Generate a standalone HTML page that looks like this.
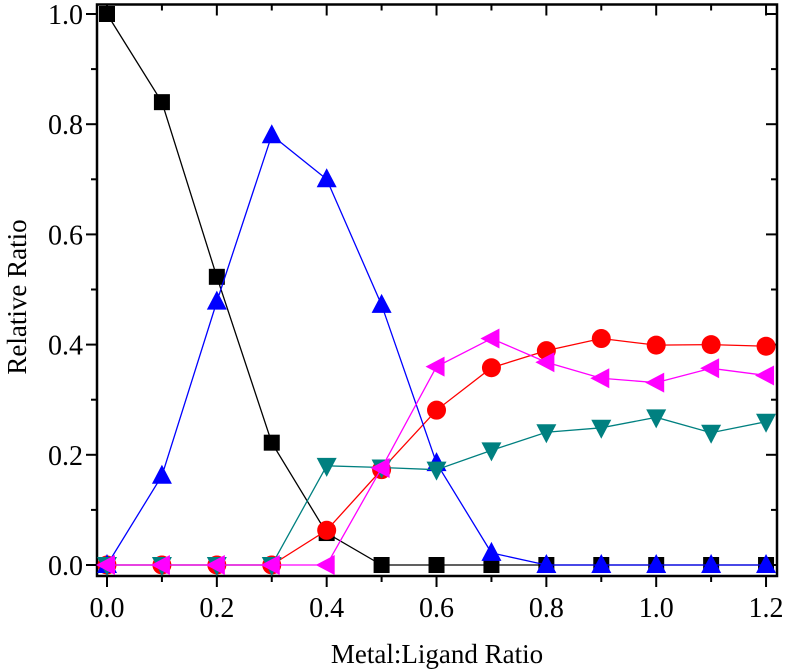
<!DOCTYPE html>
<html><head><meta charset="utf-8"><style>body{margin:0;background:#fff}svg{display:block}</style></head>
<body>
<svg id="chart" width="786" height="671" xmlns="http://www.w3.org/2000/svg" font-family="Liberation Serif, serif"></svg>
<script>
const xValues=[0,0.1,0.2,0.3,0.4,0.5,0.6,0.7,0.8,0.9,1.0,1.1,1.2];
const squareSeries=[1,0.84,0.523,0.222,0.058,0,0,0,0,0,0,0,0];
const circleSeries=[0,0,0,0,0.063,0.173,0.281,0.358,0.389,0.411,0.399,0.400,0.397];
const upTriSeries=[0,0.162,0.478,0.78,0.70,0.472,0.185,0.022,0,0,0,0,0];
const downTriSeries=[0,0,0,0,0.18,0.177,0.173,0.208,0.241,0.249,0.268,0.240,0.260];
const leftTriSeries=[0,0,0,0,0,0.176,0.360,0.411,0.368,0.339,0.331,0.357,0.344];
const xTicks=[0,0.2,0.4,0.6,0.8,1.0,1.2];
const yTicks=[0,0.2,0.4,0.6,0.8,1.0];
const svg=document.getElementById('chart');
const NS='http://www.w3.org/2000/svg';
const X=v=>107+v*549.2, Y=v=>565-v*551;
function mk(t,a,p){const e=document.createElementNS(NS,t);for(const k in a)e.setAttribute(k,a[k]);(p||svg).appendChild(e);return e;}
const frame=mk('rect',{x:97,y:4.5,width:680,height:571.5,fill:'none',stroke:'#000','stroke-width':2.5});


for(let i=0;i<=12;i++){const v=i/10,x=X(v),L=i%2?6:11;
 mk('line',{x1:x,y1:576,x2:x,y2:576+L,stroke:'#000','stroke-width':2});
 mk('line',{x1:x,y1:4.5,x2:x,y2:4.5+L,stroke:'#000','stroke-width':2});}
for(let i=0;i<=10;i++){const v=i/10,y=Y(v),L=i%2?6:11;
 mk('line',{x1:97,y1:y,x2:97-L,y2:y,stroke:'#000','stroke-width':2});
 mk('line',{x1:777,y1:y,x2:777-L,y2:y,stroke:'#000','stroke-width':2});}
xTicks.forEach(v=>{const t=mk('text',{x:X(v),y:617,'text-anchor':'middle','font-size':28});t.textContent=v.toFixed(1);
});
yTicks.forEach(v=>{const t=mk('text',{x:83,y:Y(v)+10,'text-anchor':'end','font-size':28});t.textContent=v.toFixed(1);
});
const xt=mk('text',{x:437,y:663,'text-anchor':'middle','font-size':27});xt.textContent='Metal:Ligand Ratio';

const yt=mk('text',{x:0,y:0,'text-anchor':'middle','font-size':27,transform:'translate(26,297) rotate(-90)'});yt.textContent='Relative Ratio';

function marker(g,shape,x,y,c){const s=10;let pts;
 if(shape==='sq'){mk('rect',{x:x-8,y:y-8,width:16,height:16,fill:c},g);return;}
 if(shape==='ci'){mk('circle',{cx:x,cy:y,r:9.5,fill:c},g);return;}
 if(shape==='up')pts=[[x,y-s-1],[x-s,y+s-2],[x+s,y+s-2]];
 if(shape==='dn')pts=[[x,y+s+1],[x-s,y-s+2],[x+s,y-s+2]];
 if(shape==='lt')pts=[[x-s-1,y],[x+s-2,y-s],[x+s-2,y+s]];
 mk('polygon',{points:pts.map(p=>p.join(',')).join(' '),fill:c},g);}
function series(name,data,color,shape){const g=mk('g',{});
 
 mk('polyline',{points:data.map((v,i)=>X(xValues[i])+','+Y(v)).join(' '),fill:'none',stroke:color,'stroke-width':1.3},g);
 data.forEach((v,i)=>marker(g,shape,X(xValues[i]),Y(v),color));}
series('series-square',squareSeries,'#000','sq');
series('series-circle',circleSeries,'#ff0000','ci');
series('series-up-triangle',upTriSeries,'#0000ff','up');
series('series-down-triangle',downTriSeries,'#008080','dn');
series('series-left-triangle',leftTriSeries,'#ff00ff','lt');
</script>
</body></html>
